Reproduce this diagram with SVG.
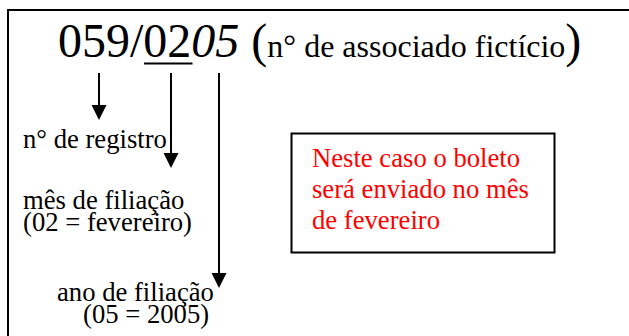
<svg xmlns="http://www.w3.org/2000/svg" width="629" height="336" viewBox="0 0 629 336">
<style>
text{font-family:'Liberation Serif','DejaVu Serif',serif;fill:#000}
.lbl{font-size:26.67px}
.red{font-size:26.67px;fill:#ff0000}
.ln{stroke:#000;stroke-width:2;fill:none}
</style>
<defs>
<marker id="ah" viewBox="0 0 15 15" refX="1" refY="7.5" markerWidth="15" markerHeight="15" markerUnits="userSpaceOnUse" orient="auto">
<path d="M0,0 L15,7.5 L0,15 z" fill="#000"/>
</marker>
</defs>
<g id="frame">
<line class="ln" x1="8" y1="10" x2="629" y2="10"/>
<line class="ln" x1="8" y1="9" x2="8" y2="336"/>
</g>
<g id="title">
<text x="58" y="57" font-size="48" font-family="Liberation Serif, serif">059/02<tspan font-style="italic">05</tspan> (<tspan font-size="32">n° de associado fictício</tspan>)</text>
<line class="ln" x1="144" y1="63.5" x2="192.5" y2="63.5"/>
</g>
<g id="connectors">
<line class="ln" x1="99" y1="73" x2="99" y2="106" marker-end="url(#ah)"/>
<line class="ln" x1="171" y1="73" x2="171" y2="154" marker-end="url(#ah)"/>
<line class="ln" x1="219" y1="73" x2="219" y2="274" marker-end="url(#ah)"/>
</g>
<g id="registro">
<text class="lbl" x="23" y="148" font-family="Liberation Serif, serif">n° de registro</text>
</g>
<g id="mes">
<text class="lbl" x="23" y="209" font-family="Liberation Serif, serif">mês de filiação</text>
<text class="lbl" x="23" y="231" font-family="Liberation Serif, serif">(02 = fevereiro)</text>
</g>
<g id="ano">
<text class="lbl" x="57" y="301" font-family="Liberation Serif, serif">ano de filiação</text>
<text class="lbl" x="83" y="323" font-family="Liberation Serif, serif">(05 = 2005)</text>
</g>
<g id="note">
<rect x="291.5" y="133.5" width="263" height="119" fill="#fff" stroke="#000" stroke-width="2"/>
<text class="red" x="312" y="167" font-family="Liberation Serif, serif">Neste caso o boleto</text>
<text class="red" x="312" y="198" font-family="Liberation Serif, serif">será enviado no mês</text>
<text class="red" x="312" y="229" font-family="Liberation Serif, serif">de fevereiro</text>
</g>
</svg>
